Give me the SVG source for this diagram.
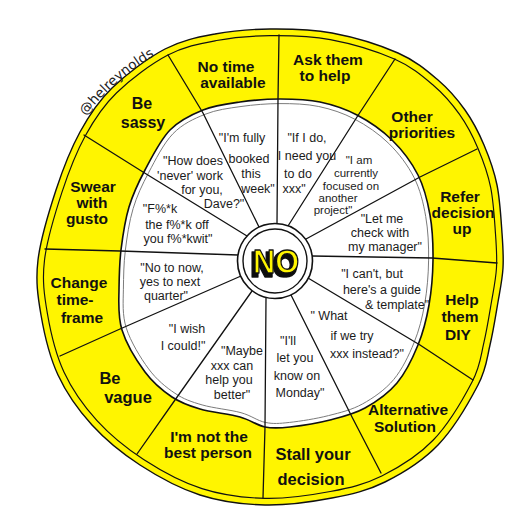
<svg xmlns="http://www.w3.org/2000/svg" width="530" height="530" viewBox="0 0 530 530">
<style>
.lab{font-family:"Liberation Sans",Arial,sans-serif;font-weight:700;font-size:15.5px;fill:#111;text-anchor:middle}
.q{font-family:"Liberation Sans",Arial,sans-serif;font-size:12.5px;fill:#1b1b1b;text-anchor:middle}
.sp{fill:none;stroke:#111;stroke-width:1.3;stroke-linecap:round;stroke-linejoin:round}
</style>
<defs>
<path id="outer" d="M270,29 C289.5,28.8 310.7,29 332,33 C353.3,37 380.3,45.2 398,53 C415.7,60.8 426.8,70.5 438,80 C449.2,89.5 457.3,99.2 465,110 C472.7,120.8 478.7,132.5 484,145 C489.3,157.5 494,170.3 497,185 C500,199.7 501,219.2 502,233 C503,246.8 503.7,256.5 503,268 C502.3,279.5 500.2,289.2 498,302 C495.8,314.8 493.3,331.2 490,345 C486.7,358.8 486.7,368.3 478,385 C469.3,401.7 453.5,428.8 438,445 C422.5,461.2 402.7,473.2 385,482 C367.3,490.8 352,494.2 332,498 C312,501.8 287,505.5 265,505 C243,504.5 220.8,501.7 200,495 C179.2,488.3 158,476.7 140,465 C122,453.3 105.7,440 92,425 C78.3,410 66.5,393.3 58,375 C49.5,356.7 44.3,334.2 41,315 C37.7,295.8 35.5,280.8 38,260 C40.5,239.2 49,211.3 56,190 C63,168.7 70.7,149 80,132 C89.3,115 97.8,101.8 112,88 C126.2,74.2 147.8,58 165,49 C182.2,40 197.5,37.3 215,34 C232.5,30.7 250.5,29.2 270,29 Z"/>
<path id="inner" d="M280,99 C293.3,99 307.2,99.3 320,102 C332.8,104.7 345,108.7 357,115 C369,121.3 381.8,130 392,140 C402.2,150 411.7,162.5 418,175 C424.3,187.5 427.5,200.8 430,215 C432.5,229.2 433.2,245 433,260 C432.8,275 431.5,290.8 429,305 C426.5,319.2 423.3,332 418,345 C412.7,358 405.8,372.5 397,383 C388.2,393.5 376.2,401.8 365,408 C353.8,414.2 342.5,416.8 330,420 C317.5,423.2 300.8,425.8 290,427 C279.2,428.2 273.3,428.7 265,427 C256.7,425.3 250.8,420 240,417 C229.2,414 211.3,412.3 200,409 C188.7,405.7 181.2,403.2 172,397 C162.8,390.8 153.3,383.2 145,372 C136.7,360.8 126.3,343.7 122,330 C117.7,316.3 118.8,303.3 119,290 C119.2,276.7 119.3,263.8 121,250 C122.7,236.2 125,220.3 129,207 C133,193.7 138.2,182.8 145,170 C151.8,157.2 160.3,140 170,130 C179.7,120 191.3,114.7 203,110 C214.7,105.3 227.2,103.8 240,102 C252.8,100.2 266.7,99 280,99 Z"/>
<path id="sig" d="M85.7,116 A236,242 0 0 1 172,46.5"/>
<filter id="sh" x="-30%" y="-30%" width="160%" height="160%">
<feMorphology in="SourceAlpha" operator="dilate" radius="1.2" result="d"/>
<feOffset in="d" dx="-2.5" dy="2.5" result="o"/>
<feFlood flood-color="#111"/>
<feComposite in2="o" operator="in" result="s"/>
<feMerge><feMergeNode in="s"/><feMergeNode in="SourceGraphic"/></feMerge>
</filter>
</defs>
<rect width="530" height="530" fill="#fff"/>
<g id="wheel">
<use href="#outer" fill="#fff500" stroke="#111" stroke-width="1.4"/>
<use href="#outer" fill="none" stroke="#111" stroke-width="1.2" transform="translate(270 267) scale(0.972) translate(-270 -267)"/>
<use href="#inner" fill="#fff" stroke="#111" stroke-width="1.6"/>
<use href="#inner" fill="none" stroke="#777" stroke-width="1" transform="translate(276 263) scale(0.972) translate(-276 -263)"/>
</g>
<g id="connectors" class="sp">
<path d="M277,223 L278,99 L279,35"/>
<path d="M288,226 L357,117 L395,59"/>
<path d="M306,239 L420,177 L477,149"/>
<path d="M312,256 L432,258 L497,263"/>
<path d="M308,278 L420,345 L473,380"/>
<path d="M291,295 L352,417 L381,473"/>
<path d="M266,298 L265,427 L263,498"/>
<path d="M252,291 L175,400 L137,454"/>
<path d="M241,276 L120,329 L60,356"/>
<path d="M238,255 L120,251 L45,249"/>
<path d="M247,236 L143,172 L84,135"/>
<path d="M259,227 L203,113 L168,55"/>
</g>
<g id="hub">
<circle cx="275" cy="261" r="37.5" fill="#fff" stroke="#111" stroke-width="1.6"/>
<circle cx="275" cy="261" r="32" fill="none" stroke="#111" stroke-width="1.4"/>
<text x="276" y="273" font-family="Liberation Sans,Arial,sans-serif" font-weight="700" font-size="34" text-anchor="middle" textLength="46" lengthAdjust="spacingAndGlyphs" fill="#fff500" stroke="#111" stroke-width="1.4" stroke-linejoin="round" filter="url(#sh)">NO</text>
</g>
<g id="signature">
<text font-family="DejaVu Sans,sans-serif" font-size="13.5" fill="#222"><textPath href="#sig">@helreynolds</textPath></text>
</g>
<g id="outer-labels">
<text id="n-no-time" class="lab"><tspan x="226" y="72">No time</tspan><tspan x="233" y="88">available</tspan></text>
<text id="n-ask" class="lab"><tspan x="328" y="65">Ask them</tspan><tspan x="325" y="81">to help</tspan></text>
<text id="n-other" class="lab"><tspan x="412" y="122">Other</tspan><tspan x="422" y="138">priorities</tspan></text>
<text id="n-refer" class="lab"><tspan x="460" y="202">Refer</tspan><tspan x="463" y="218">decision</tspan><tspan x="462" y="234">up</tspan></text>
<text id="n-help" class="lab"><tspan x="462" y="305">Help</tspan><tspan x="460" y="322">them</tspan><tspan x="458" y="340">DIY</tspan></text>
<text id="n-alt" class="lab"><tspan x="408" y="415">Alternative</tspan><tspan x="405" y="432">Solution</tspan></text>
<text id="n-stall" class="lab" style="font-size:16.5px"><tspan x="313" y="460">Stall your</tspan><tspan x="311" y="485">decision</tspan></text>
<text id="n-notbest" class="lab"><tspan x="209" y="442">I'm not the</tspan><tspan x="208" y="458">best person</tspan></text>
<text id="n-vague" class="lab" style="font-size:16.5px"><tspan x="110" y="384">Be</tspan><tspan x="128" y="403">vague</tspan></text>
<text id="n-change" class="lab"><tspan x="79" y="288">Change</tspan><tspan x="75" y="305">time-</tspan><tspan x="82" y="323">frame</tspan></text>
<text id="n-swear" class="lab"><tspan x="93" y="192">Swear</tspan><tspan x="92" y="208">with</tspan><tspan x="87" y="224">gusto</tspan></text>
<text id="n-sassy" class="lab" style="font-size:16px"><tspan x="142" y="109">Be</tspan><tspan x="143" y="128">sassy</tspan></text>
</g>
<g id="quotes">
<text id="q-booked" class="q"><tspan x="242" y="142">"I'm fully</tspan><tspan x="249" y="163">booked</tspan><tspan x="251" y="178">this</tspan><tspan x="258" y="193">week"</tspan></text>
<text id="q-ifido" class="q"><tspan x="307" y="142">"If I do,</tspan><tspan x="307" y="160">I need you</tspan><tspan x="298" y="178">to do</tspan><tspan x="294" y="193">xxx"</tspan></text>
<text id="q-focused" class="q" style="font-size:11.5px"><tspan x="359" y="164">"I am</tspan><tspan x="356" y="177">currently</tspan><tspan x="351" y="190">focused on</tspan><tspan x="338" y="202">another</tspan><tspan x="333" y="214">project"</tspan></text>
<text id="q-manager" class="q"><tspan x="382" y="223">"Let me</tspan><tspan x="380" y="237">check with</tspan><tspan x="385" y="251">my manager"</tspan></text>
<text id="q-guide" class="q"><tspan x="372" y="278">"I can't, but</tspan><tspan x="382" y="294">here's a guide</tspan><tspan x="397" y="309">&amp; template"</tspan></text>
<text id="q-whatif" class="q"><tspan x="329" y="320">" What</tspan><tspan x="352" y="340">if we try</tspan><tspan x="367" y="358">xxx instead?"</tspan></text>
<text id="q-monday" class="q"><tspan x="288" y="345">"I'll</tspan><tspan x="295" y="362">let you</tspan><tspan x="297" y="380">know on</tspan><tspan x="300" y="397">Monday"</tspan></text>
<text id="q-maybe" class="q"><tspan x="242" y="355">"Maybe</tspan><tspan x="232" y="370">xxx can</tspan><tspan x="229" y="384">help you</tspan><tspan x="232" y="399">better"</tspan></text>
<text id="q-wish" class="q"><tspan x="187" y="333">"I wish</tspan><tspan x="183" y="350">I could!"</tspan></text>
<text id="q-quarter" class="q"><tspan x="172" y="272">"No to now,</tspan><tspan x="170" y="286">yes to next</tspan><tspan x="166" y="300">quarter"</tspan></text>
<text id="q-fk" class="q"><tspan x="160" y="213">"F%*k</tspan><tspan x="177" y="229">the f%*k off</tspan><tspan x="178" y="243">you f%*kwit"</tspan></text>
<text id="q-never" class="q"><tspan x="193" y="165">"How does</tspan><tspan x="190" y="180">'never' work</tspan><tspan x="202" y="194">for you,</tspan><tspan x="224" y="208">Dave?"</tspan></text>
</g>
</svg>
